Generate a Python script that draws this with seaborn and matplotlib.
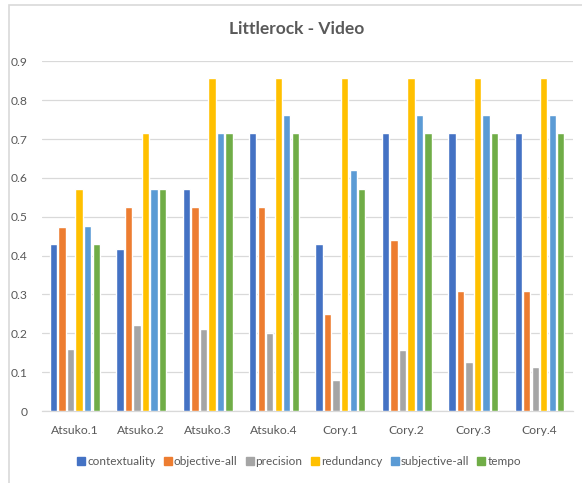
import matplotlib
matplotlib.use("Agg")
import matplotlib.pyplot as plt
from matplotlib.patches import Rectangle
from matplotlib.lines import Line2D
import pandas as pd
import seaborn as sns

categories = ["Atsuko.1", "Atsuko.2", "Atsuko.3", "Atsuko.4",
              "Cory.1", "Cory.2", "Cory.3", "Cory.4"]
series = ["contextuality", "objective-all", "precision",
          "redundancy", "subjective-all", "tempo"]

contextuality = [0.4286, 0.418, 0.5714, 0.7143, 0.4286, 0.7143, 0.7143, 0.7143]
objective_all = [0.4737, 0.525, 0.525, 0.525, 0.249, 0.439, 0.310, 0.310]
precision = [0.160, 0.222, 0.211, 0.202, 0.081, 0.157, 0.127, 0.113]
redundancy = [0.5714, 0.7143, 0.8571, 0.8571, 0.8571, 0.8571, 0.8571, 0.8571]
subjective_all = [0.4762, 0.5714, 0.7143, 0.7619, 0.619, 0.7619, 0.7619, 0.7619]
tempo = [0.4286, 0.5714, 0.7143, 0.7143, 0.5714, 0.7143, 0.7143, 0.7143]

y_ticks = [0, 0.1, 0.2, 0.3, 0.4, 0.5, 0.6, 0.7, 0.8, 0.9]
y_tick_labels = ["0", "0.1", "0.2", "0.3", "0.4", "0.5", "0.6", "0.7", "0.8", "0.9"]

palette = ["#4472C4", "#ED7D31", "#A5A5A5", "#FFC000", "#5B9BD5", "#70AD47"]

values = [contextuality, objective_all, precision, redundancy, subjective_all, tempo]
rows = []
for name, vals in zip(series, values):
    for cat, v in zip(categories, vals):
        rows.append({"category": cat, "metric": name, "value": v})
df = pd.DataFrame(rows)

sns.set_theme(style="white")
plt.rcParams["font.family"] = ["Lato", "DejaVu Sans"]
text_color = "#595959"
grid_color = "#D9D9D9"

fig = plt.figure(figsize=(5.82, 4.83), dpi=100)
ax = fig.add_axes([41.7 / 582, 1 - 411 / 483, (572.7 - 41.7) / 582, (411 - 61.3) / 483])

sns.barplot(data=df, x="category", y="value", hue="metric", order=categories,
            hue_order=series, palette=palette, width=0.77, gap=0.14,
            saturation=1, legend=False, ax=ax, zorder=3)

ax.set_ylim(0, 0.9)
ax.set_xlim(-0.5, len(categories) - 0.5)
ax.set_yticks(y_ticks)
ax.set_yticklabels(y_tick_labels)
ax.yaxis.grid(True, color=grid_color, linewidth=0.9, zorder=0)
ax.set_axisbelow(True)
for side in ["top", "right", "left"]:
    ax.spines[side].set_visible(False)
ax.spines["bottom"].set_color(grid_color)
ax.spines["bottom"].set_linewidth(0.9)
ax.tick_params(axis="both", length=0, colors=text_color, labelsize=8.7)
ax.tick_params(axis="y", pad=10)
ax.tick_params(axis="x", pad=10)
ax.set_xlabel("")
ax.set_ylabel("")

fig.text(297 / 582, 1 - 29 / 483, "Littlerock - Video", ha="center", va="center",
         fontsize=12.5, fontweight="bold", color=text_color)

handles = [Line2D([0], [0], marker="s", linestyle="none", markersize=5.5,
                  markerfacecolor=c, markeredgecolor=c) for c in palette]
fig.legend(handles, series, loc="center", ncol=6, frameon=False,
           bbox_to_anchor=(299 / 582, 1 - 461.7 / 483), fontsize=8.5,
           labelcolor=text_color, handletextpad=0.15, columnspacing=0.7,
           handlelength=0.7)

fig.patches.append(Rectangle((9 / 582, -0.1), 1.2, 1 - 5 / 483 + 0.1,
                             transform=fig.transFigure, fill=False,
                             edgecolor=grid_color, linewidth=1.2))

fig.savefig("out.png", dpi=100)
